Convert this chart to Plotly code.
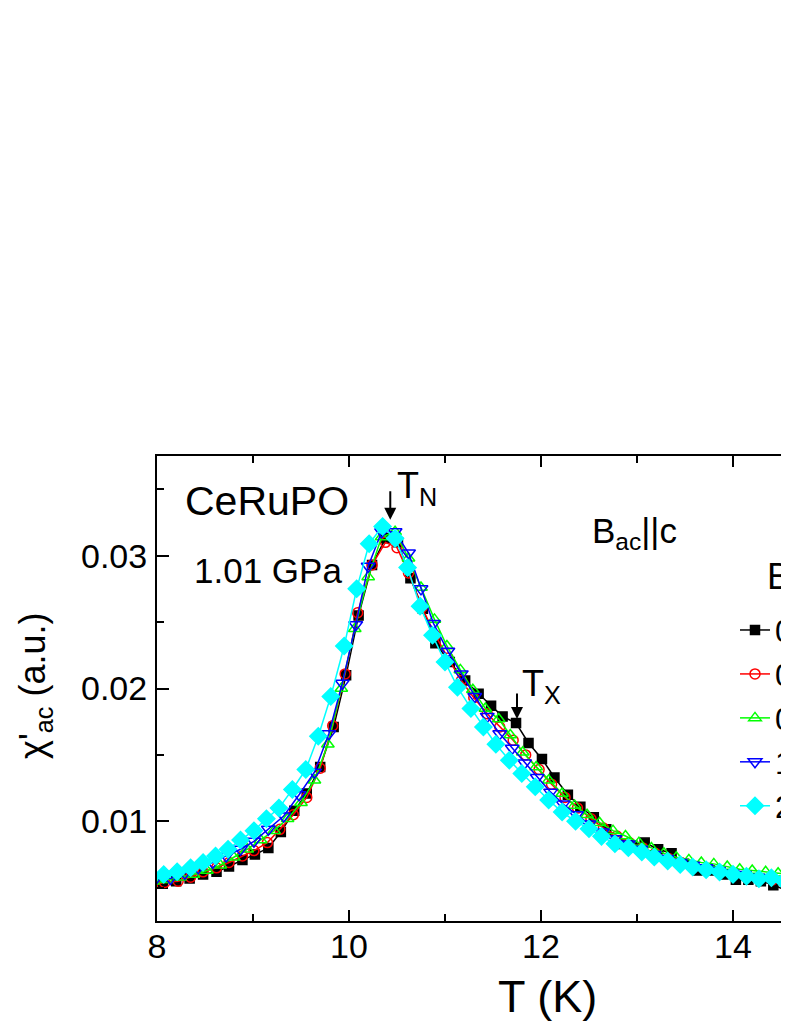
import plotly.graph_objects as go

# ---- data ----
T_b0 = [7.92, 8.06, 8.20, 8.34, 8.48, 8.62, 8.75, 8.89, 9.02, 9.16, 9.29, 9.43, 9.56, 9.70, 9.84, 9.97,
        10.10, 10.24, 10.38, 10.51, 10.64, 10.77, 10.90, 11.05, 11.21, 11.35, 11.48, 11.60, 11.74, 11.87,
        12.01, 12.14, 12.28, 12.41, 12.55, 12.68, 12.81, 12.95, 13.08, 13.22, 13.36, 13.49, 13.63, 13.76,
        13.90, 14.03, 14.16, 14.29, 14.42, 14.56, 14.70]
chi_b0 = [0.0050, 0.0053, 0.0055, 0.0057, 0.0060, 0.0062, 0.0066, 0.0071, 0.0075, 0.0080, 0.0092, 0.0108,
          0.0121, 0.0141, 0.0171, 0.0210, 0.0255, 0.0293, 0.0313, 0.0310, 0.0283, 0.0260, 0.0234, 0.0220,
          0.0206, 0.0196, 0.0187, 0.0179, 0.0174, 0.0159, 0.0147, 0.0133, 0.0120, 0.0111, 0.0103, 0.0094,
          0.0083, 0.0082, 0.0084, 0.0079, 0.0076, 0.0068, 0.0063, 0.0063, 0.0060, 0.0056, 0.0056, 0.0055,
          0.0052, 0.0048, 0.0048]

T_b1 = [7.95, 8.08, 8.22, 8.35, 8.48, 8.62, 8.75, 8.89, 9.01, 9.15, 9.28, 9.42, 9.56, 9.70, 9.83, 9.96,
        10.09, 10.24, 10.38, 10.50, 10.62, 10.76, 10.90, 11.03, 11.17, 11.30, 11.44, 11.57, 11.71, 11.84,
        11.98, 12.11, 12.25, 12.38, 12.52, 12.65, 12.79, 12.92, 13.06, 13.19, 13.33, 13.46, 13.60, 13.73,
        13.87, 14.00, 14.14, 14.27, 14.41, 14.54, 14.68]
chi_b1 = [0.0052, 0.0054, 0.0055, 0.0058, 0.0062, 0.0065, 0.0069, 0.0074, 0.0078, 0.0084, 0.0094, 0.0105,
          0.0118, 0.0140, 0.0172, 0.0211, 0.0257, 0.0293, 0.0310, 0.0306, 0.0287, 0.0261, 0.0240, 0.0223,
          0.0206, 0.0193, 0.0181, 0.0171, 0.0161, 0.0150, 0.0139, 0.0128, 0.0118, 0.0110, 0.0102, 0.0095,
          0.0089, 0.0084, 0.0080, 0.0076, 0.0072, 0.0069, 0.0066, 0.0064, 0.0062, 0.0060, 0.0058, 0.0057,
          0.0056, 0.0055, 0.0054]

T_b2 = [7.96, 8.10, 8.24, 8.38, 8.52, 8.66, 8.80, 8.94, 9.08, 9.22, 9.36, 9.50, 9.64, 9.78, 9.92,
        10.06, 10.20, 10.34, 10.48, 10.62, 10.75, 10.89, 11.02, 11.16, 11.29, 11.42, 11.56, 11.68, 11.81,
        11.95, 12.08, 12.22, 12.35, 12.48, 12.61, 12.75, 12.88, 13.02, 13.15, 13.28, 13.41, 13.54, 13.67,
        13.80, 13.94, 14.07, 14.20, 14.34, 14.47, 14.60]
chi_b2 = [0.0055, 0.0056, 0.0058, 0.0060, 0.0063, 0.0067, 0.0073, 0.0079, 0.0086, 0.0093, 0.0102, 0.0114,
          0.0131, 0.0158, 0.0200, 0.0245, 0.0284, 0.0314, 0.0318, 0.0298, 0.0276, 0.0252, 0.0232, 0.0214,
          0.0199, 0.0185, 0.0177, 0.0165, 0.0152, 0.0141, 0.0131, 0.0121, 0.0112, 0.0105, 0.0099, 0.0093,
          0.0089, 0.0084, 0.0080, 0.0076, 0.0073, 0.0071, 0.0069, 0.0068, 0.0066, 0.0064, 0.0063, 0.0062,
          0.0061, 0.0060]

T_b3 = [7.85, 8.00, 8.14, 8.29, 8.43, 8.58, 8.72, 8.87, 9.01, 9.16, 9.32, 9.48, 9.64, 9.79, 9.93,
        10.07, 10.20, 10.34, 10.48, 10.62, 10.75, 10.88, 11.03, 11.17, 11.31, 11.44, 11.57, 11.70, 11.83,
        11.96, 12.10, 12.23, 12.37, 12.50, 12.64, 12.77, 12.91, 13.04, 13.18, 13.31, 13.45, 13.58, 13.72,
        13.85, 13.99, 14.12, 14.26, 14.39, 14.53, 14.66]
chi_b3 = [0.0056, 0.0058, 0.0057, 0.0061, 0.0065, 0.0069, 0.0074, 0.0079, 0.0085, 0.0094, 0.0104, 0.0120,
          0.0137, 0.0166, 0.0204, 0.0248, 0.0292, 0.0318, 0.0318, 0.0302, 0.0275, 0.0249, 0.0228, 0.0211,
          0.0194, 0.0179, 0.0166, 0.0155, 0.0144, 0.0133, 0.0122, 0.0113, 0.0105, 0.0098, 0.0092, 0.0087,
          0.0083, 0.0079, 0.0075, 0.0072, 0.0069, 0.0067, 0.0065, 0.0063, 0.0061, 0.0060, 0.0058, 0.0057,
          0.0056, 0.0055]

T_b4 = [7.94, 8.07, 8.21, 8.35, 8.48, 8.61, 8.74, 8.87, 9.01, 9.14, 9.27, 9.41, 9.55, 9.68, 9.81, 9.95,
        10.08, 10.21, 10.35, 10.48, 10.61, 10.74, 10.87, 11.00, 11.13, 11.27, 11.40, 11.53, 11.67, 11.80,
        11.94, 12.08, 12.22, 12.36, 12.50, 12.63, 12.77, 12.91, 13.05, 13.18, 13.32, 13.45, 13.58, 13.72,
        13.86, 14.00, 14.14, 14.27, 14.40, 14.53, 14.67]
chi_b4 = [0.0058, 0.0060, 0.0062, 0.0065, 0.0069, 0.0074, 0.0079, 0.0086, 0.0093, 0.0102, 0.0110, 0.0124,
          0.0139, 0.0164, 0.0194, 0.0232, 0.0275, 0.0309, 0.0322, 0.0313, 0.0291, 0.0262, 0.0240, 0.0220,
          0.0201, 0.0185, 0.0171, 0.0158, 0.0146, 0.0136, 0.0126, 0.0116, 0.0107, 0.0100, 0.00945, 0.00887,
          0.00832, 0.00802, 0.00769, 0.00731, 0.00701, 0.00676, 0.00656, 0.00636, 0.00618, 0.00601, 0.00586,
          0.00568, 0.00576, 0.0055, 0.0054]

series_names = ["0 T", "0.1 T", "0.5 T", "1 T", "2 T"]
x_ticks = [8, 10, 12, 14]
y_ticks = [0.01, 0.02, 0.03]
y_ticktext = ["0.01", "0.02", "0.03"]

FONT = "Liberation Sans, Arial, sans-serif"

styles = [
    dict(color="#000000", symbol="square", size=9),
    dict(color="#FF0000", symbol="circle-open", size=10),
    dict(color="#00FF00", symbol="triangle-up-open", size=11),
    dict(color="#0000FF", symbol="triangle-down-open", size=12),
    dict(color="#00FFFF", symbol="diamond", size=13),
]
data = [(T_b0, chi_b0), (T_b1, chi_b1), (T_b2, chi_b2), (T_b3, chi_b3), (T_b4, chi_b4)]

fig = go.Figure()
for (tx, cy), name, st in zip(data, series_names, styles):
    fig.add_trace(go.Scatter(
        x=tx, y=cy, name=name, mode="lines+markers",
        line=dict(color=st["color"], width=1.5),
        marker=dict(symbol=st["symbol"], size=st["size"], color=st["color"],
                    line=dict(color=st["color"], width=1.5)),
    ))

# The page body has an 8 px margin, so the figure is drawn 8 px lower/right.
OFF = 8
WIN_W, WIN_H = 789, 1021
PL, PR, PT, PB = 157, 789, 456, 921  # plot area in window pixels
W, H = WIN_W - OFF, WIN_H - OFF
pw, ph = PR - PL, PB - PT


def px(xw):
    return (xw - PL) / pw


def py(yw):
    return (PB - yw) / ph


axis_common = dict(showline=True, linewidth=2, linecolor="black", ticks="inside",
                   tickwidth=2, tickcolor="black", showgrid=False, zeroline=False,
                   tickfont=dict(family=FONT, size=34, color="black"))

fig.update_layout(
    width=W, height=H,
    margin=dict(l=PL - OFF, r=0, t=PT - OFF, b=H - (PB - OFF), autoexpand=False),
    paper_bgcolor="white", plot_bgcolor="white",
    font=dict(family=FONT, color="black"),
    xaxis=dict(range=[8, 8 + pw / 96.0], tickvals=x_ticks, ticklen=11, mirror="ticks",
               ticklabelstandoff=-6,
               minor=dict(dtick=1, tick0=8, ticks="inside", ticklen=7, tickwidth=2, tickcolor="black"),
               **axis_common),
    yaxis=dict(range=[0.0025, 0.0375], tickvals=y_ticks, ticktext=y_ticktext, ticklen=12,
               ticklabelstandoff=1,
               minor=dict(dtick=0.005, tick0=0.0, ticks="inside", ticklen=7, tickwidth=2, tickcolor="black"),
               **axis_common),
    showlegend=True,
    legend=dict(x=px(735), y=py(603), xanchor="left", yanchor="top",
                bgcolor="rgba(0,0,0,0)", borderwidth=0,
                font=dict(family=FONT, size=31.5, color="black"), tracegroupgap=0),
)

ann_font = dict(family=FONT, color="black")
annots = [
    dict(text="CeRuPO", x=px(183), y=py(501), size=41),
    dict(text="1.01 GPa", x=px(192), y=py(570), size=35),
    dict(text="B<sub>ac</sub>||c", x=px(590), y=py(533), size=35),
    dict(text="T<sub>N</sub>", x=px(395), y=py(488), size=36),
    dict(text="T<sub>X</sub>", x=px(520), y=py(686), size=36),
    dict(text="B (T)", x=px(765), y=py(576), size=36),
]
for a in annots:
    fig.add_annotation(text=a["text"], x=a["x"], y=a["y"], xref="paper", yref="paper",
                       xanchor="left", yanchor="middle", showarrow=False,
                       font=dict(size=a["size"], **ann_font))

# axis titles
fig.add_annotation(text="T (K)", x=px(547), y=py(996), xref="paper", yref="paper",
                   xanchor="center", yanchor="middle", showarrow=False,
                   font=dict(size=45, **ann_font))
fig.add_annotation(text="χ'<sub>ac</sub> (a.u.)", x=px(35), y=py(686), xref="paper", yref="paper",
                   xanchor="center", yanchor="middle", showarrow=False, textangle=-90,
                   font=dict(size=36, **ann_font))

# arrows marking T_N and T_X
fig.add_annotation(x=10.43, y=0.0327, ax=0, ay=-30, text="", showarrow=True,
                   arrowhead=2, arrowsize=1.2, arrowwidth=2, arrowcolor="black")
fig.add_annotation(x=11.75, y=0.0177, ax=0, ay=-27, text="", showarrow=True,
                   arrowhead=2, arrowsize=1.2, arrowwidth=2, arrowcolor="black")

fig.write_html("out.html")
